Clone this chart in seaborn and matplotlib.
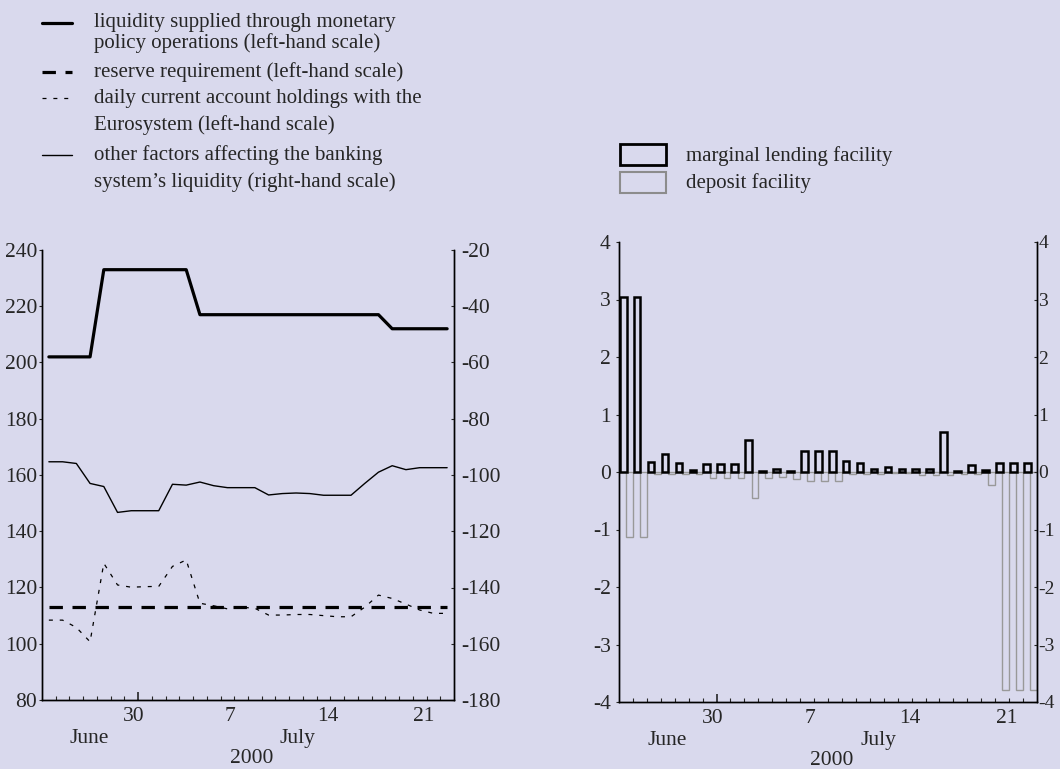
import numpy as np
import pandas as pd
import matplotlib.pyplot as plt
import seaborn as sns
from matplotlib.lines import Line2D
from matplotlib.patches import Rectangle

# daily observations, 24 June - 23 July 2000 (EUR billions)
days = pd.date_range("2000-06-24", "2000-07-23", freq="D")

liquidity_supplied = [202, 202, 202, 202, 233, 233, 233, 233, 233, 233,
                      233, 217, 217, 217, 217, 217, 217, 217, 217, 217,
                      217, 217, 217, 217, 217, 212, 212, 212, 212, 212]
reserve_requirement = [113.2] * 30
current_account = [108.4, 108.4, 105.8, 100.7, 128.6, 120.9, 120.1, 120.3, 120.4, 127.5,
                   129.8, 114.4, 113.5, 112.4, 113.0, 112.6, 110.2, 110.2, 110.4, 110.4,
                   110.0, 109.6, 109.6, 113.0, 117.3, 116.1, 114.1, 112.0, 110.8, 110.8]
other_factors = [-95.3, -95.3, -95.9, -103.0, -104.1, -113.3, -112.7, -112.7, -112.7, -103.3,
                 -103.6, -102.5, -103.8, -104.5, -104.5, -104.5, -107.1, -106.6, -106.4, -106.6,
                 -107.2, -107.2, -107.2, -103.0, -99.0, -96.7, -98.1, -97.4, -97.4, -97.4]

marginal_lending = [3.04, 3.04, 0.17, 0.31, 0.16, 0.03, 0.14, 0.14, 0.14, 0.55,
                    0.02, 0.06, 0.01, 0.36, 0.36, 0.36, 0.19, 0.16, 0.06, 0.09,
                    0.05, 0.05, 0.06, 0.70, 0.01, 0.13, 0.03, 0.16, 0.16, 0.16]
deposit = [-1.13, -1.13, -0.04, -0.03, -0.04, -0.03, -0.10, -0.10, -0.10, -0.46,
           -0.10, -0.08, -0.13, -0.15, -0.15, -0.15, -0.04, -0.03, -0.03, -0.02,
           -0.02, -0.05, -0.05, -0.05, -0.03, -0.03, -0.22, -3.79, -3.79, -3.79]

day_labels = ["30", "7", "14", "21"]
day_label_pos = [6.7, 13.7, 20.85, 27.8]
month_labels = ["June", "July"]
month_label_pos = [3.45, 18.6]

BG = "#d9d9ed"
sns.set_theme(style="ticks", rc={"axes.facecolor": BG, "figure.facecolor": BG,
                                 "axes.edgecolor": "black", "axes.linewidth": 1.0,
                                 "axes.unicode_minus": False})
plt.rcParams["font.family"] = ["Liberation Serif", "DejaVu Serif"]
FS = 15.5   # axis text
LFS = 15    # legend text

xpos = np.arange(len(days)) + 0.5

fig = plt.figure(figsize=(10.6, 7.69), dpi=100)
W, H = 1060, 769


def px_box(x0, y0, x1, y1):
    return [x0 / W, 1 - y1 / H, (x1 - x0) / W, (y1 - y0) / H]


def style_x(ax):
    ax.set_xlim(0, len(days))
    ax.set_xticks([7])
    ax.set_xticks([d for d in range(1, len(days)) if d != 7], minor=True)
    ax.set_xticklabels([])
    ax.tick_params(axis="x", which="major", direction="in", length=6, width=1.2)
    ax.tick_params(axis="x", which="minor", direction="in", length=3, width=0.8)
    for lab, p in zip(day_labels, day_label_pos):
        ax.annotate(lab, (p, 0), xycoords=ax.get_xaxis_transform(), xytext=(0, -12),
                    textcoords="offset points", ha="center", va="center", fontsize=FS)
    for lab, p in zip(month_labels, month_label_pos):
        ax.annotate(lab, (p, 0), xycoords=ax.get_xaxis_transform(), xytext=(0, -27.5),
                    textcoords="offset points", ha="center", va="center", fontsize=FS)
    ax.annotate("2000", (15.3, 0), xycoords=ax.get_xaxis_transform(), xytext=(0, -42),
                textcoords="offset points", ha="center", va="center", fontsize=FS)


# ---- left chart: liquidity lines
ax1 = fig.add_axes(px_box(42, 250, 454, 700))
ax1r = ax1.twinx()
sns.lineplot(x=xpos, y=liquidity_supplied, ax=ax1, color="black", linewidth=2.3)
sns.lineplot(x=xpos, y=reserve_requirement, ax=ax1, color="black", linewidth=2.3,
             linestyle=(0, (4.2, 3.0)))
sns.lineplot(x=xpos, y=current_account, ax=ax1, color="black", linewidth=0.9,
             linestyle=(0, (3.2, 5.5)))
sns.lineplot(x=xpos, y=other_factors, ax=ax1r, color="black", linewidth=1.0)

ax1.set_ylim(80, 240)
ax1.set_yticks(range(80, 241, 20))
ax1r.set_ylim(-180, -20)
ax1r.set_yticks(range(-180, -19, 20))
style_x(ax1)

# ---- right chart: standing facilities
ax2 = fig.add_axes(px_box(619, 242, 1037, 702))
ax2r = ax2.twinx()
sns.barplot(x=xpos + 0.25, y=deposit, ax=ax2, native_scale=True, width=0.48,
            fill=False, color="#999999", linewidth=1.0, errorbar=None)
sns.barplot(x=xpos - 0.2, y=marginal_lending, ax=ax2, native_scale=True, width=0.48,
            fill=False, color="black", linewidth=1.8, errorbar=None)
for p in ax2.patches:
    if p.get_edgecolor()[0] < 0.1:
        p.set_zorder(3)
ax2.set_ylim(-4, 4)
ax2.set_yticks(range(-4, 5))
ax2r.set_ylim(-4, 4)
ax2r.set_yticks(range(-4, 5))
style_x(ax2)

for a in (ax1, ax1r, ax2, ax2r):
    a.set_xlabel("")
    a.set_ylabel("")
    a.spines["top"].set_visible(False)
    a.set_facecolor("none")
for a in (ax1, ax2):
    a.tick_params(axis="y", direction="out", length=2.5, width=0.8, pad=1.0, labelsize=FS)
    a.spines["right"].set_visible(True)
for a in (ax1r, ax2r):
    a.tick_params(axis="y", direction="in", length=2.5, width=0.8, pad=5.5, labelsize=FS)
ax2.tick_params(axis="y", pad=3.5)
# keep the right-hand labels of the bar chart inside the picture
ax2r.tick_params(axis="y", pad=1.0, labelsize=FS - 1.5)

# ---- legends (drawn in figure pixels)
def fx(px):
    return px / W


def fy(py):
    return 1 - py / H


def handle(y, **kw):
    fig.add_artist(Line2D([fx(42), fx(72)], [fy(y), fy(y)], color="black", **kw))


def label(x, y, s):
    fig.text(fx(x), fy(y), s, fontsize=LFS, ha="left", va="center")


handle(23, linewidth=2.3)
label(94, 23, "liquidity supplied through monetary")
label(94, 43, "policy operations (left-hand scale)")
handle(72, linewidth=2.3, linestyle=(0, (4.2, 3.0)))
label(94, 72, "reserve requirement (left-hand scale)")
handle(98, linewidth=0.9, linestyle=(0, (3.2, 5.5)))
label(94, 98, "daily current account holdings with the")
label(94, 125, "Eurosystem (left-hand scale)")
handle(155, linewidth=1.0)
label(94, 155, "other factors affecting the banking")
label(94, 182, "system\u2019s liquidity (right-hand scale)")

fig.add_artist(Rectangle((fx(620), fy(165)), fx(666) - fx(620), fy(144) - fy(165),
                         transform=fig.transFigure, fill=False, edgecolor="black", linewidth=2.0))
fig.add_artist(Rectangle((fx(620), fy(193)), fx(666) - fx(620), fy(172) - fy(193),
                         transform=fig.transFigure, fill=False, edgecolor="#8c8c8c", linewidth=1.5))
label(686, 156, "marginal lending facility")
label(686, 183, "deposit facility")

fig.savefig("out.png", dpi=100)
